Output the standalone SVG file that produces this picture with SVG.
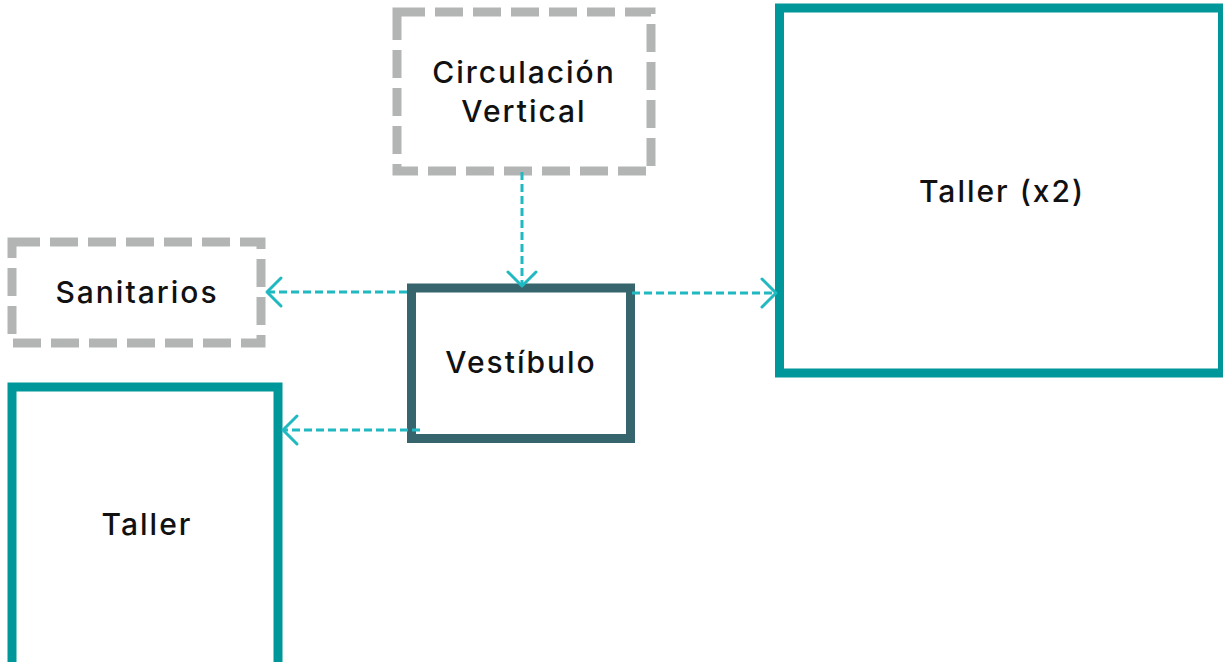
<svg xmlns="http://www.w3.org/2000/svg" width="1223" height="662" viewBox="0 0 1223 662">
<style>
.bg{fill:#ffffff}
.dash{fill:#ffffff;stroke:#b3b5b5;stroke-width:9;stroke-dasharray:28 10}
.taller{fill:#ffffff;stroke:#00979a;stroke-width:9}
.vest{fill:#ffffff;stroke:#36656e;stroke-width:9}
.lbl{font-family:Inter,"Noto Sans",sans-serif;font-size:30px;font-weight:500;letter-spacing:2px;fill:#111111;text-anchor:middle}
.conn{fill:none;stroke:#20b9c1;stroke-width:3;stroke-dasharray:8 4}
</style>
<defs>
<marker id="chev" markerUnits="userSpaceOnUse" viewBox="-18 -18 22 36" markerWidth="22" markerHeight="36" refX="0" refY="0" orient="auto">
<path d="M-14,-14 L0,0 L-14,14" fill="none" stroke="#20b9c1" stroke-width="3" stroke-linecap="round" stroke-linejoin="round"/>
</marker>
</defs>
<rect class="bg" x="0" y="0" width="1223" height="662"/>
<g id="node-circulacion">
<rect class="dash" x="397" y="12" width="254" height="159"/>
<text class="lbl" x="524" y="83">Circulación</text>
<text class="lbl" x="524" y="122">Vertical</text>
</g>
<g id="node-sanitarios">
<rect class="dash" x="12" y="242" width="249" height="101"/>
<text class="lbl" x="137" y="303">Sanitarios</text>
</g>
<g id="node-taller">
<rect class="taller" x="12" y="387" width="266" height="280"/>
<text class="lbl" x="147" y="535">Taller</text>
</g>
<g id="node-taller-x2">
<rect class="taller" x="779.5" y="8" width="443" height="365"/>
<text class="lbl" x="1002" y="202">Taller (x2)</text>
</g>
<g id="node-vestibulo">
<rect class="vest" x="411.5" y="288" width="219" height="150.5"/>
<text class="lbl" x="521" y="373">Vestíbulo</text>
</g>
<g id="connectors">
<path class="conn" d="M522,172 L522,286" marker-end="url(#chev)"/>
<path class="conn" d="M632,293 L776,293" marker-end="url(#chev)"/>
<path class="conn" d="M407,292 L267,292" marker-end="url(#chev)"/>
<path class="conn" d="M420,430 L283,430" marker-end="url(#chev)"/>
</g>
</svg>
